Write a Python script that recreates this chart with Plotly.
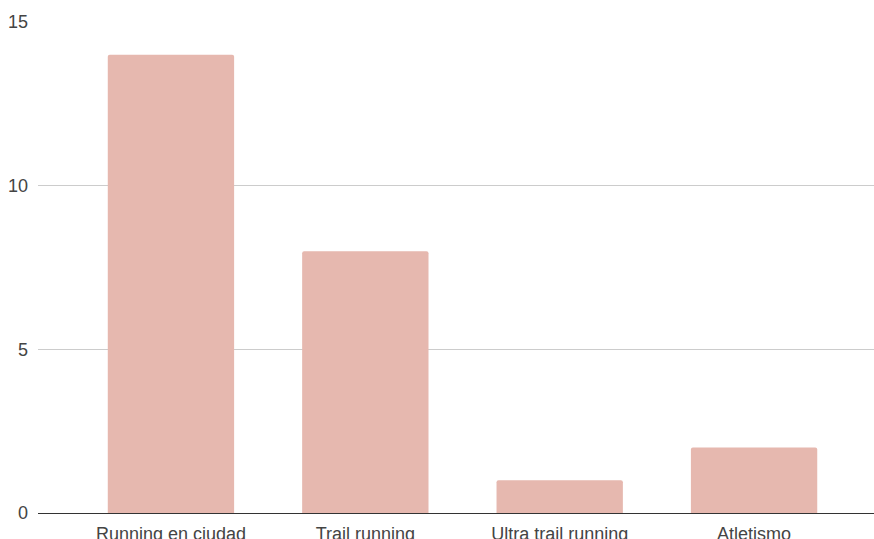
import plotly.graph_objects as go

categories = ["Running en ciudad", "Trail running", "Ultra trail running", "Atletismo"]
values = [14, 8, 1, 2]
y_ticks = [0, 5, 10, 15]

fig = go.Figure(
    go.Bar(
        x=categories,
        y=values,
        marker=dict(color="#e6b8af", line=dict(width=0)),
        width=0.65,
        hoverinfo="x+y",
    )
)

fig.update_layout(
    width=874,
    height=539,
    margin=dict(l=38, r=0, t=22, b=26),
    paper_bgcolor="white",
    plot_bgcolor="white",
    font=dict(family="Liberation Sans, Arial, sans-serif", size=18, color="#444444"),
    barcornerradius=2,
    showlegend=False,
)

fig.update_xaxes(
    range=[-0.684, 3.617],
    automargin=False,
    showgrid=False,
    showline=True,
    linecolor="#333333",
    linewidth=1,
    ticks="",
    ticklabelstandoff=4,
    tickfont=dict(size=18, color="#444444"),
    fixedrange=True,
)

fig.update_yaxes(
    range=[0, 15],
    automargin=False,
    tickvals=y_ticks,
    showgrid=True,
    gridcolor="#cccccc",
    gridwidth=1,
    zeroline=False,
    showline=False,
    ticks="",
    ticklabelstandoff=9,
    tickfont=dict(size=18, color="#444444"),
    fixedrange=True,
)

fig.write_html(
    "out.html",
    config={"displayModeBar": False},
    post_script="document.body.style.margin='0';document.body.style.overflow='hidden';",
)
